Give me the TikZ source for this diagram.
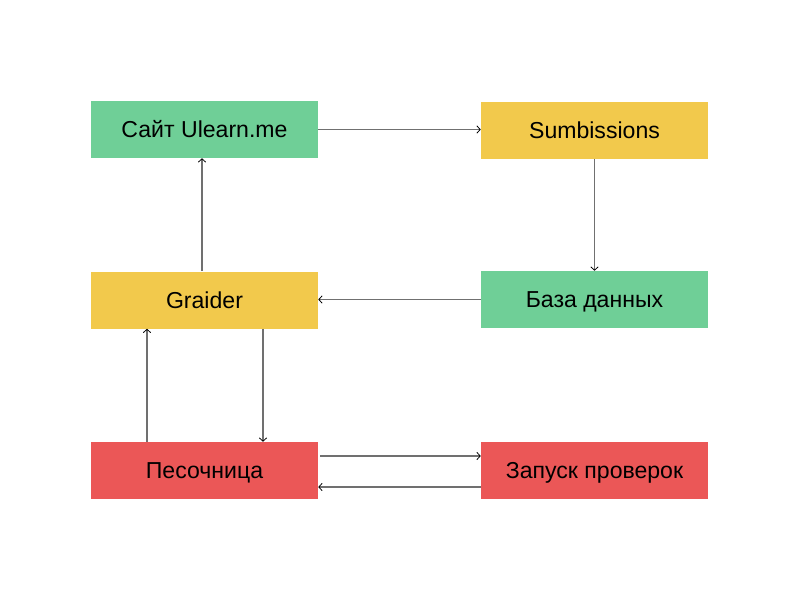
\documentclass[tikz,border=0pt]{standalone}
\usepackage{fontspec}
\setmainfont{Liberation Sans}
\usetikzlibrary{arrows.meta,calc}
\definecolor{cgreen}{HTML}{6FCF97}
\definecolor{cyellow}{HTML}{F2C94C}
\definecolor{cred}{HTML}{EB5757}
\definecolor{cline}{HTML}{707070}
\tikzset{
  box/.style={minimum width=170.25pt,minimum height=42.75pt,inner sep=0pt,font=\fontsize{17.3}{20}\selectfont,text=black,draw=none,text height=12.4pt,text depth=0pt},
  conn/.style={draw=cline,line width=0.8pt,-{Straight Barb[black,length=2.5pt,width=5.5pt,line width=0.6pt]}},
}
\begin{document}
\begin{tikzpicture}[x=0.75pt,y=-0.75pt]
\useasboundingbox (0,0) rectangle (800,600);
\node[box,fill=cgreen] (site) at (204.5,129.5) {Сайт Ulearn.me};
\node[box,fill=cyellow] (sub) at (594.5,130) {Sumbissions};
\node[box,fill=cyellow] (gr) at (204.5,300) {Graider};
\node[box,fill=cgreen] (db) at (594.5,299.5) {База данных};
\node[box,fill=cred] (sand) at (204.5,470.5) {Песочница};
\node[box,fill=cred] (run) at (594.5,470.5) {Запуск проверок};
\draw[conn] (site.east) -- (site.east -| sub.west);
\draw[conn] (sub.south) -- (sub.south |- db.north);
\draw[conn] (db.west) -- (db.west -| gr.east);
\draw[conn] ($(gr.north)+(-2.5,0)$) -- ($(site.south)+(-2.5,0)$);
\draw[conn] ($(sand.north)+(-57.5,0)$) -- ($(gr.south)+(-57.5,0)$);
\draw[conn] ($(gr.south)+(58.5,0)$) -- ($(sand.north)+(58.5,0)$);
\draw[conn] ($(sand.east)+(2,-14.5)$) -- ($(run.west)+(0,-14.5)$);
\draw[conn] ($(run.west)+(0,16.5)$) -- ($(sand.east)+(0,16.5)$);
\end{tikzpicture}
\end{document}
